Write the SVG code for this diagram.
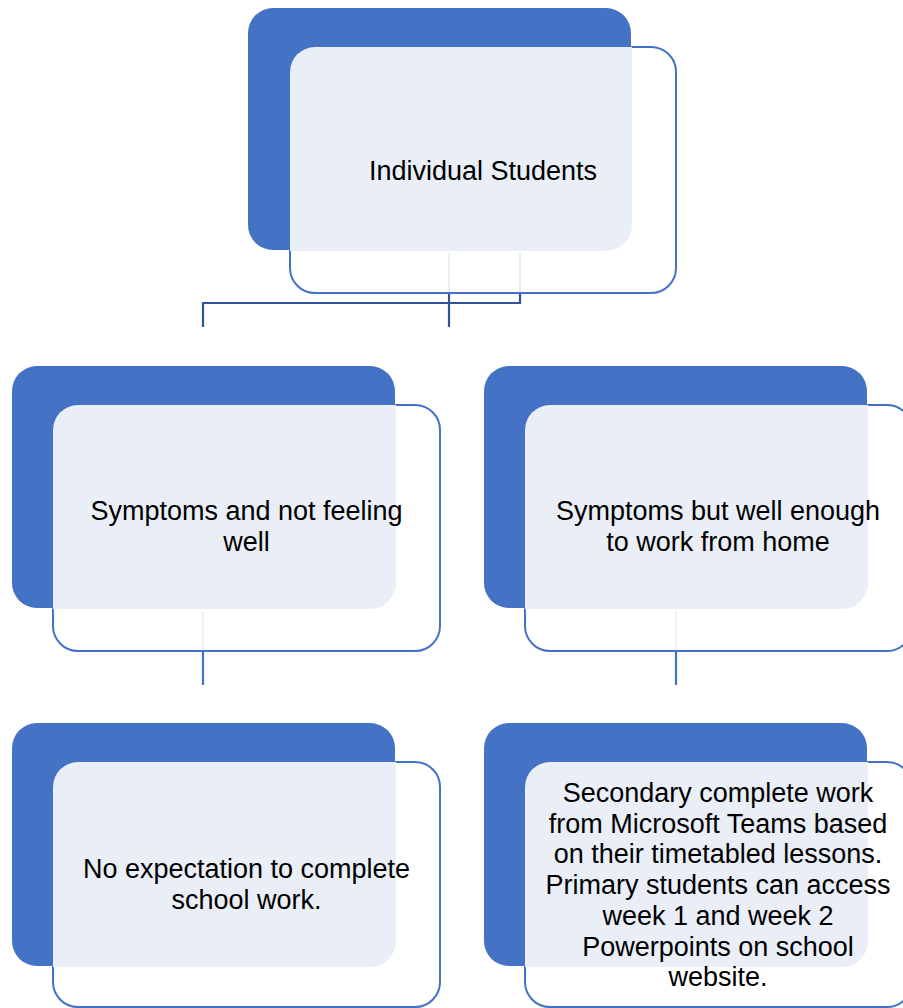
<svg xmlns="http://www.w3.org/2000/svg" width="903" height="1008" viewBox="0 0 903 1008">
<defs>
<style>
.bg{fill:#4472C4;}
.outline{fill:#FFFFFF;fill-opacity:0.9;stroke:#4472C4;stroke-width:2;}
.light{fill:#E9EEF7;}
.conn{fill:none;stroke:#2F5597;stroke-width:2.2;}
.conn2{fill:none;stroke:#4472C4;stroke-width:2.2;}
.lbl{font-family:"Liberation Sans",Arial,sans-serif;font-size:27px;fill:#000;text-anchor:middle;}
</style>
</defs>
<rect width="903" height="1008" fill="#FFFFFF"/>
<g id="connectors">
<path class="conn" d="M520,253 V303 H203 V327"/>
<path class="conn" d="M449,253 V327"/>
<path class="conn2" d="M203,612 V685"/>
<path class="conn2" d="M676,612 V685"/>
</g>
<g id="node-individual">
<rect class="outline" x="290" y="47" width="386" height="246" rx="25"/>
<rect class="bg" x="248" y="8" width="383" height="242" rx="25"/>
<path class="light" d="M290,72 A25,25 0 0 1 315,47 H632 V225 A26,26 0 0 1 606,251 H290 Z"/>
<text class="lbl" x="483" y="180">Individual Students</text>
</g>
<g id="node-not-well">
<rect class="outline" x="53" y="405" width="387" height="246" rx="25"/>
<rect class="bg" x="12" y="366" width="383" height="242" rx="25"/>
<path class="light" d="M53,430 A25,25 0 0 1 78,405 H396 V583 A26,26 0 0 1 370,609 H53 Z"/>
<text class="lbl" x="246.5" y="520">Symptoms and not feeling</text>
<text class="lbl" x="246.5" y="551">well</text>
</g>
<g id="node-well-enough">
<rect class="outline" x="525" y="405" width="387" height="246" rx="25"/>
<rect class="bg" x="484" y="366" width="383" height="242" rx="25"/>
<path class="light" d="M525,430 A25,25 0 0 1 550,405 H868 V583 A26,26 0 0 1 842,609 H525 Z"/>
<text class="lbl" x="718" y="520">Symptoms but well enough</text>
<text class="lbl" x="718" y="551">to work from home</text>
</g>
<g id="node-no-expectation">
<rect class="outline" x="53" y="762" width="387" height="245" rx="25"/>
<rect class="bg" x="12" y="723" width="383" height="243" rx="25"/>
<path class="light" d="M53,787 A25,25 0 0 1 78,762 H396 V941 A26,26 0 0 1 370,967 H53 Z"/>
<text class="lbl" x="246.5" y="878">No expectation to complete</text>
<text class="lbl" x="246.5" y="909">school work.</text>
</g>
<g id="node-secondary">
<rect class="outline" x="525" y="762" width="387" height="245" rx="25"/>
<rect class="bg" x="484" y="723" width="383" height="243" rx="25"/>
<path class="light" d="M525,787 A25,25 0 0 1 550,762 H868 V941 A26,26 0 0 1 842,967 H525 Z"/>
<text class="lbl" x="718" y="802">Secondary complete work</text>
<text class="lbl" x="718" y="832.7">from Microsoft Teams based</text>
<text class="lbl" x="718" y="863.4">on their timetabled lessons.</text>
<text class="lbl" x="718" y="894.1">Primary students can access</text>
<text class="lbl" x="718" y="924.8">week 1 and week 2</text>
<text class="lbl" x="718" y="955.5">Powerpoints on school</text>
<text class="lbl" x="718" y="986.2">website.</text>
</g>
</svg>
